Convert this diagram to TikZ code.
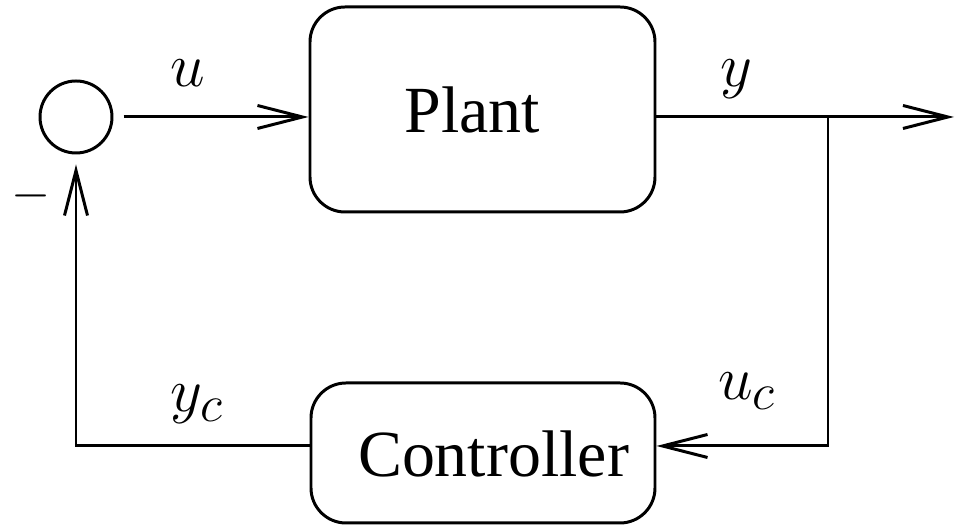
\documentclass[tikz,border=0pt]{standalone}
\usepackage{fontspec}
\setmainfont{Liberation Serif}
\usetikzlibrary{arrows.meta}
\begin{document}
\begin{tikzpicture}[line width = 1.7pt, >={Straight Barb[length = 0.9cm, width = 0.46cm, line width = 1.7pt]}, font = \fontsize{37.5}{45}\selectfont]
\pgfmathsetlengthmacro\boxround{0.7cm}
\pgfmathsetmacro\mainy{8.18}
\pgfmathsetmacro\backy{1.6}
\useasboundingbox (0,0) rectangle (19.1,10.52);
\node[draw = black, circle, minimum size = 1.44cm, inner sep = 0pt, outer sep = 0.23cm] (sum) at (1.52,\mainy) {};
\node[draw = black, rounded corners = \boxround, minimum width = 6.9cm, minimum height = 4.1cm] (plant) at (9.65,8.33) {};
\node[draw = black, rounded corners = \boxround, minimum width = 6.88cm, minimum height = 2.8cm] (ctrl) at (9.66,1.46) {};
\node[anchor = base] (plantname) at (9.45,7.86) {Plant};
\node[anchor = base] (ctrlname) at (9.87,0.98) {Controller};
\coordinate (out) at (19.08,\mainy);
\coordinate (branch) at (16.56,\mainy);
\coordinate (turn) at (16.56,\backy);
\coordinate (corner) at (1.52,\backy);
\draw[->] (sum.east) -- (sum.east -| plant.west);
\draw[->] (plant.east |- out) -- (out);
\draw[->] (branch) -- (turn) -- (turn -| ctrl.east);
\draw[->] (turn -| ctrl.west) -- (corner) -- (sum.south);
\foreach \name/\x/\y/\txt in {u/3.75/8.78/u, y/14.72/8.78/y, yc/3.94/2.28/y_c, uc/14.94/2.52/u_c} \node[anchor = base, font = \Huge, scale = 1.42] (lbl\name) at (\x,\y) {$\txt$};
\node[font = \Huge, scale = 1.15] (minus) at (0.62,6.6) {$-$};
\end{tikzpicture}
\end{document}
